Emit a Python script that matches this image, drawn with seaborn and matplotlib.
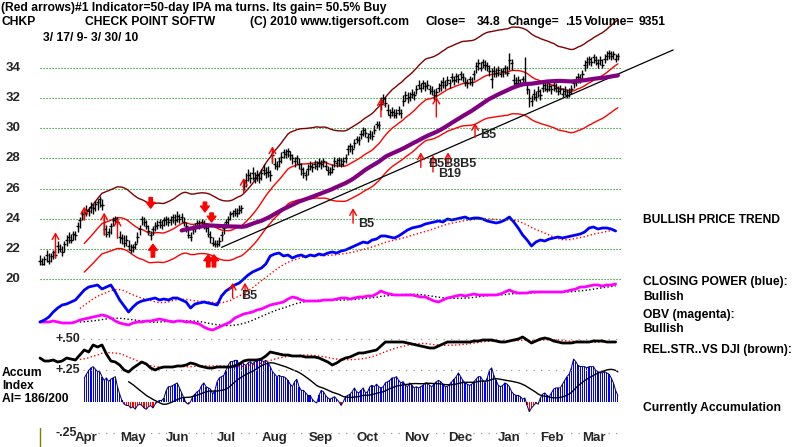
import numpy as np
import pandas as pd
import matplotlib
matplotlib.use("Agg")
import matplotlib.pyplot as plt
import seaborn as sns

# ---------------- data ----------------
closes = [21.2,21.0,21.3,21.6,21.2,21.5,21.8,21.6,22.2,22.0,
          21.8,22.3,22.6,22.8,22.6,23.0,22.9,23.5,23.9,24.3,
          24.4,24.6,24.5,24.8,24.7,25.0,25.1,25.3,24.9,23.3,
          23.0,23.1,23.5,23.9,24.0,23.8,22.8,22.7,22.4,22.6,
          22.2,21.9,22.1,22.3,22.8,23.3,24.0,23.8,23.5,23.2,
          22.9,23.3,23.5,23.6,23.8,23.6,23.9,24.0,23.8,23.9,
          24.1,23.9,24.2,24.0,24.1,23.8,23.5,22.9,22.8,23.3,
          23.5,23.7,23.6,23.8,23.5,23.4,23.0,22.8,22.4,22.3,
          22.3,22.5,22.9,23.4,23.8,24.0,24.3,24.4,24.5,24.4,
          24.6,24.7,26.2,26.6,26.9,26.7,27.0,26.7,26.9,26.7,
          27.0,27.2,27.0,27.1,26.9,28.2,27.6,27.5,27.8,28.1,
          28.4,28.3,28.5,28.2,28.0,27.8,28.0,27.6,27.3,27.0,
          26.9,27.3,27.5,27.4,27.6,27.5,27.7,27.6,27.8,27.5,
          27.2,27.1,27.3,27.8,27.7,27.9,27.6,27.8,28.0,28.6,
          28.8,28.6,29.0,29.3,29.2,29.6,29.9,29.7,29.4,29.6,
          29.5,29.9,30.3,30.2,31.6,32.0,31.7,31.2,30.9,31.1,
          30.9,31.0,31.2,31.0,31.8,32.2,32.0,32.1,32.3,32.2,
          32.6,32.9,32.7,33.0,32.8,32.9,32.6,32.5,32.2,32.4,
          32.7,32.9,33.1,32.9,33.2,33.0,33.4,33.2,33.5,33.3,
          33.6,33.4,33.1,33.0,33.3,33.1,33.6,34.1,34.3,34.0,
          34.4,34.2,34.1,33.8,33.3,33.8,33.7,33.9,33.6,33.8,
          34.0,33.7,34.5,34.3,33.2,33.0,33.2,33.0,33.3,33.1,
          32.6,32.0,31.8,32.3,32.1,32.5,32.2,32.7,32.9,32.6,
          32.8,32.6,32.9,32.7,32.5,32.6,32.3,32.5,32.2,32.4,
          32.6,33.0,33.2,33.4,33.3,33.6,34.2,34.4,34.6,34.4,
          34.7,34.5,34.3,34.5,34.2,34.6,34.8,35.0,34.8,34.9,
          34.6,34.8]
highs = [21.6,21.4,21.5,21.9,21.7,21.7,21.9,21.9,22.5,22.3,
         22.2,22.5,22.9,23.1,23.0,23.2,23.2,23.8,24.1,24.6,
         24.7,24.9,24.8,25.1,25.0,25.2,25.3,25.5,25.3,24.1,
         23.6,23.4,23.7,24.1,24.2,24.1,23.2,23.0,22.9,22.9,
         22.6,22.3,22.3,22.5,23.1,23.6,24.2,24.1,23.9,23.6,
         23.2,23.5,23.8,23.9,24.0,23.9,24.1,24.2,24.1,24.2,
         24.3,24.3,24.5,24.3,24.4,24.1,23.8,23.4,23.1,23.6,
         23.7,23.9,23.9,24.0,23.9,23.7,23.5,23.2,22.8,22.6,
         22.6,22.8,23.2,23.7,24.0,24.2,24.5,24.6,24.7,24.7,
         24.9,24.9,26.6,27.0,27.3,27.1,27.4,27.1,27.2,27.0,
         27.3,27.6,27.4,27.5,27.2,28.7,28.0,27.8,28.1,28.4,
         28.6,28.6,28.7,28.5,28.3,28.1,28.2,28.0,27.7,27.4,
         27.2,27.6,27.8,27.7,27.9,27.8,28.0,27.9,28.0,27.8,
         27.5,27.4,27.6,28.1,28.0,28.1,28.0,28.1,28.3,28.9,
         29.0,28.9,29.3,29.5,29.5,29.9,30.1,30.0,29.7,29.9,
         29.8,30.2,30.5,30.5,32.1,32.3,32.1,31.6,31.3,31.4,
         31.3,31.3,31.5,31.3,32.2,32.5,32.4,32.4,32.6,32.5,
         32.9,33.2,33.0,33.2,33.1,33.2,32.9,32.8,32.6,32.7,
         33.0,33.2,33.4,33.2,33.5,33.3,33.7,33.5,33.7,33.6,
         33.8,33.7,33.4,33.3,33.5,33.4,33.9,34.4,34.6,34.4,
         34.6,34.5,34.4,34.2,34.0,34.1,34.0,34.1,34.0,34.0,
         34.2,34.1,35.0,34.6,33.6,33.4,33.5,33.3,33.5,34.7,
         33.1,32.6,32.2,32.6,32.5,32.8,32.6,33.0,33.2,33.0,
         33.1,32.9,33.1,33.0,32.8,32.9,32.7,32.8,32.6,32.7,
         32.9,33.3,33.5,33.7,33.6,33.9,34.5,34.7,34.8,34.7,
         34.9,34.8,34.6,34.8,34.6,34.9,35.1,35.2,35.1,35.1,
         34.9,35.0]
lows = [20.9,20.9,20.9,21.1,21.0,21.1,21.3,21.4,21.7,21.8,
        21.5,21.8,22.2,22.4,22.4,22.6,22.6,23.1,23.4,23.9,
        24.0,24.2,24.2,24.4,24.3,24.5,24.6,24.8,24.6,23.0,
        22.8,22.8,23.0,23.5,23.7,23.6,22.4,22.3,22.1,22.2,
        21.9,21.7,21.8,22.0,22.4,22.9,23.6,23.5,23.3,22.9,
        22.6,22.9,23.2,23.3,23.4,23.3,23.5,23.6,23.5,23.6,
        23.7,23.6,23.8,23.7,23.8,23.5,23.1,22.7,22.5,23.0,
        23.1,23.4,23.3,23.5,23.3,23.1,22.8,22.4,22.2,22.1,
        22.1,22.2,22.5,23.0,23.4,23.6,23.9,24.1,24.2,24.1,
        24.3,24.4,25.9,26.1,26.5,26.4,26.6,26.4,26.5,26.4,
        26.6,26.9,26.7,26.8,26.5,27.7,27.3,27.2,27.4,27.7,
        28.0,28.0,28.1,27.9,27.6,27.4,27.6,27.3,26.9,26.7,
        26.6,26.9,27.2,27.1,27.3,27.2,27.4,27.3,27.4,27.2,
        26.9,26.9,27.0,27.4,27.4,27.5,27.4,27.5,27.7,28.2,
        28.4,28.3,28.7,29.0,28.9,29.3,29.5,29.4,29.1,29.3,
        29.2,29.6,30.0,29.9,31.2,31.6,31.4,30.9,30.7,30.8,
        30.7,30.7,30.9,30.7,31.5,31.8,31.7,31.8,32.0,31.9,
        32.3,32.6,32.4,32.6,32.5,32.6,32.3,32.2,31.9,32.1,
        32.4,32.5,32.7,32.6,32.9,32.7,33.1,32.9,33.1,33.0,
        33.2,33.1,32.8,32.7,32.9,32.8,33.2,33.7,33.9,33.8,
        34.0,33.9,33.8,33.5,32.7,33.4,33.4,33.5,33.4,33.4,
        33.6,33.5,33.9,33.9,32.9,32.8,32.9,32.8,32.9,32.9,
        32.3,31.4,31.5,31.9,31.8,32.1,31.9,32.4,32.5,32.4,
        32.5,32.3,32.5,32.4,32.2,32.3,32.1,32.2,32.0,32.1,
        32.3,32.7,32.8,33.0,33.0,33.2,33.8,34.0,34.2,34.1,
        34.3,34.2,34.0,34.2,34.0,34.3,34.5,34.6,34.5,34.6,
        34.4,34.5]

# indicators, one reading every 2 trading days (arbitrary indicator units)
cp_vals = [8,10,13,18,22,25,26,28,30,35,
           40,43,44,45,41,43,45,38,30,24,
           18,23,27,29,30,31,32,30,31,30,
           32,32,30,28,22,26,27,28,27,26,
           25,34,39,42,45,47,51,55,58,60,
           62,66,74,76,77,74,75,72,74,75,
           73,75,74,76,75,77,78,77,79,80,
           82,84,86,88,87,90,91,94,94,93,
           92,94,97,100,102,103,104,106,107,108,
           109,108,111,110,111,112,113,111,112,112,
           111,109,108,107,108,110,113,108,102,95,
           90,84,88,90,89,91,92,93,92,93,
           94,95,96,98,102,103,101,102,102,101,99]
obv_vals = [8,8,8,9,8,7,7,7,8,10,
            11,12,13,14,15,14,12,9,7,6,
            5,7,8,8,9,9,10,11,10,9,
            8,9,9,8,8,7,6,3,1,0,
            2,4,6,8,12,14,16,17,18,20,
            21,23,25,26,27,28,31,33,32,30,
            29,29,29,29,30,30,30,31,32,32,
            31,32,33,33,34,34,36,39,37,36,
            35,35,35,35,35,34,33,33,31,29,
            28,30,32,33,34,35,34,35,36,35,
            35,35,35,35,36,38,40,38,37,37,
            37,38,38,38,38,38,38,38,38,39,
            40,41,43,43,44,45,45,44,45,45,46]
rs_vals = [22,19,19,20,18,19,22,21,20,25,
           30,28,35,33,35,26,19,18,15,10,
           8,12,15,18,16,12,10,12,13,13,
           13,14,14,15,17,16,14,13,12,12,
           13,13,13,13,14,16,19,20,20,20,
           21,24,28,27,26,25,25,24,24,24,
           23,23,23,22,20,18,15,17,20,22,
           23,25,27,27,28,29,30,34,38,38,
           38,38,38,37,36,35,34,33,32,32,
           34,36,38,38,38,38,38,38,39,39,
           40,40,40,39,38,38,39,40,41,43,
           40,37,39,41,42,41,39,38,37,37,
           37,38,38,38,38,39,39,39,38,38,38]
# Accumulation Index, daily from trading day 20
ai_vals = [.19,.22,.25,.27,.28,.26,.24,.24,.20,.17,
           .19,.16,.18,.19,.20,.12,.06,.01,-.02,-.03,
           -.03,-.05,-.04,-.06,-.03,-.02,-.03,-.05,-.06,-.04,
           -.03,-.05,-.02,0.0,.01,.01,.03,.09,.12,.12,
           .13,.14,.15,.11,.07,.03,-.01,-.02,0.0,.04,
           .06,.08,.09,.13,.15,.12,.11,.10,.06,.09,
           .16,.19,.20,.21,.25,.29,.32,.32,.33,.33,
           .29,.32,.30,.29,.31,.32,.30,.32,.33,.33,
           .33,.32,.33,.31,.28,.24,.22,.20,.21,.20,
           .20,.19,.17,.14,.12,.16,.18,.12,.09,.09,
           .07,.05,.05,.02,0.0,-.01,.05,.09,.08,.05,
           .03,.02,.03,.04,.02,0.0,-.03,0.0,.04,.05,
           .06,.08,.11,.08,.07,.09,.11,.07,.08,.12,
           .13,.12,.14,.12,.11,.12,.15,.16,.17,.19,
           .19,.20,.17,.15,.16,.13,.12,.15,.13,.11,
           .12,.11,.12,.13,.15,.15,.13,.12,.14,.16,
           .17,.16,.14,.12,.12,.14,.16,.18,.20,.23,
           .20,.17,.15,.14,.13,.14,.16,.18,.20,.20,
           .17,.15,.19,.25,.27,.21,.17,.13,.12,.13,
           .15,.14,.12,.08,.06,.05,.05,.04,.02,.03,
           -.03,-.08,-.05,-.03,-.01,-.02,.03,.06,.07,.05,
           .04,.07,.10,.11,.11,.11,.14,.17,.20,.22,
           .27,.34,.32,.29,.28,.28,.28,.27,.28,.28,
           .28,.25,.24,.23,.23,.24,.23,.22,.19,.15,
           .09,.05]
AI_START = 20

month_names = ["Apr","May","Jun","Jul","Aug","Sep","Oct","Nov","Dec","Jan","Feb","Mar"]
month_start = [11,32,52,74,96,117,138,160,180,202,221,240]
price_ticks = [20,22,24,26,28,30,32,34]
ai_ticks = [0.50, 0.25, -0.25]
ai_tick_labels = ["+.50", "+.25", "-.25"]

trend_days = [82, 286]
trend_prices = [22.1, 35.2]

# signal arrows: (trading day, tail price, head price)
thin_arrows = [(7,21.4,23.1),(20,23.9,24.8),(29,22.9,24.4),(35,22.7,24.0),
               (92,25.7,26.7),(105,27.7,28.8),(154,30.75,32.0),(179,30.75,32.1)]
thick_arrows = [(50,25.4,24.7),(51,21.45,22.3),(74.5,25.1,24.45),(77.5,24.38,23.78),
                (76,20.8,21.6),(78.6,20.8,21.6)]
b_arrows = [(87,18.75,19.75),(92.6,18.8,19.75),(141.4,23.7,24.7),(172,27.4,28.4),
            (177.5,27.1,28.2),(184.3,27.6,28.4),(196.5,29.4,30.35)]
b_labels = [("B5",90.8,18.87),("B5",143.6,23.65),("B5B8B5",175.2,27.65),
            ("B19",179.8,26.95),("B5",198.7,29.55)]

# ---------------- drawing ----------------
sns.set_theme(style="white")
plt.rcParams["font.family"] = ["Liberation Sans", "DejaVu Sans"]

W, H = 800, 447
fig = plt.figure(figsize=(W/100, H/100), dpi=100)
fig.patch.set_facecolor("white")

PX_PER_DAY = 2.214
X0 = 40
xlim = (-X0/PX_PER_DAY, (W - X0)/PX_PER_DAY)

def mk_ax(ylim):
    ax = fig.add_axes([0, 0, 1, 1])
    ax.set_xlim(*xlim)
    ax.set_ylim(*ylim)
    ax.patch.set_alpha(0)
    ax.set_axis_off()
    return ax

def sline(ax, x, y, **kw):
    df = pd.DataFrame({"x": np.asarray(x, float), "y": np.asarray(y, float)}).dropna()
    sns.lineplot(data=df, x="x", y="y", ax=ax, estimator=None, sort=False,
                 legend=False, **kw)

days = np.arange(len(closes))
ind_days = np.arange(len(cp_vals)) * 2
ai_days = np.arange(len(ai_vals)) + AI_START

# accumulation index axis: y_pix = 401.7 - 125.3 v
ax_ai = mk_ax(((401.7 - H)/125.3, 401.7/125.3))
# relative strength axis: y_pix = 380 - v
ax_rs = mk_ax((380 - H, 380))
# closing power / OBV axes: y_pix = 330 - v
ax_obv = mk_ax((330 - H, 330))
ax_cp = mk_ax((330 - H, 330))
# price axis: y_pix = 68 + (34 - p) * 15.07
ax_p = mk_ax((34 - (H - 68)/15.07, 34 + 68/15.07))

# --- accumulation index ---
ai = np.array(ai_vals)
ax_ai.bar(ai_days, ai, width=0.55, color=np.where(ai >= 0, "#0000ff", "#ff0000"),
          linewidth=0, antialiased=False)
sline(ax_ai, ai_days, ai, color="#000060", lw=0.7)
ai_ma = pd.Series(ai).rolling(21).mean()
sline(ax_ai, ai_days, ai_ma, color="black", lw=1.0)
ax_ai.hlines(ai_ticks, 19.5, 263, colors="#999999", linestyles=(0, (1, 5)), lw=0.9)
for v, lab in zip(ai_ticks, ai_tick_labels):
    ax_ai.text(6.8, v, lab, fontsize=9, fontweight="bold", ha="left", va="center")
for name, st in zip(month_names, month_start):
    ax_ai.text(st + 10, -0.29, name, fontsize=9.5, fontweight="bold",
               ha="center", va="center")
ax_ai.plot([0, 0], [-0.21, -0.37], color="#808000", lw=1)

# --- relative strength ---
rs = pd.Series(rs_vals, dtype=float)
sline(ax_rs, ind_days, rs.rolling(10).mean(), color="red", lw=1, linestyle=":")
sline(ax_rs, ind_days, rs, color="black", lw=2)

# --- OBV ---
obv = pd.Series(obv_vals, dtype=float)
sline(ax_obv, ind_days, obv.rolling(10).mean(), color="black", lw=1, linestyle=":")
sline(ax_obv, ind_days, obv, color="#ff00ff", lw=2)

# --- closing power ---
cp = pd.Series(cp_vals, dtype=float)
sline(ax_cp, ind_days, cp.rolling(10).mean(), color="red", lw=1, linestyle=":")
sline(ax_cp, ind_days, cp, color="#0000ff", lw=2)

# --- price panel ---
ax_p.hlines(price_ticks, 0, 263, colors="#008000", linestyles=(0, (1, 1.7)), lw=0.8)
for t in price_ticks:
    ax_p.text(-15.4, t, str(t), fontsize=9.5, fontweight="bold", ha="left", va="center")

cl = pd.Series(closes, dtype=float)
ma21 = cl.rolling(21).mean()
ma65 = cl.rolling(65).mean()
sline(ax_p, days, ma21 * 1.085, color="#800000", lw=1)
sline(ax_p, days, ma21, color="red", lw=1)
sline(ax_p, days, ma21 * 0.915, color="red", lw=1)
ax_p.plot(trend_days, trend_prices, color="black", lw=0.9)
ax_p.vlines(days, lows, highs, colors="black", lw=1)
ax_p.hlines(closes, days - 0.7, days + 0.7, colors="black", lw=1)
sline(ax_p, days, ma65, color="#800080", lw=3)

for d, a, b in thin_arrows + b_arrows:
    ax_p.annotate("", xy=(d, b), xytext=(d, a),
                  arrowprops=dict(arrowstyle="->,head_length=0.35,head_width=0.2",
                                  color="red", lw=1, shrinkA=0, shrinkB=0))
for d, a, b in thick_arrows:
    ax_p.annotate("", xy=(d, b), xytext=(d, a),
                  arrowprops=dict(arrowstyle="simple,head_width=0.9,head_length=0.6,tail_width=0.35",
                                  color="red", mutation_scale=7, shrinkA=0, shrinkB=0))
for s, d, p in b_labels:
    ax_p.text(d, p, s, fontsize=9, fontweight="bold", ha="left", va="center")

# --- header and side texts ---
def ftext(px, py, s, size=8.7):
    fig.text(px/W, 1 - py/H, s, fontsize=size, fontweight="bold", ha="left",
             va="center", color="black")

ftext(1, 8, "(Red arrows)#1 Indicator=50-day IPA ma turns. Its gain= 50.5% Buy")
ftext(1, 22, "CHKP")
ftext(85, 22, "CHECK POINT SOFTW")
ftext(250, 22, "(C) 2010 www.tigersoft.com")
ftext(425, 22, "Close=")
ftext(477, 22, "34.8")
ftext(507, 22, "Change=")
ftext(565, 22, ".15")
ftext(584, 22, "Volume=")
ftext(639, 22, "9351")
ftext(43, 38, "3/ 17/ 9- 3/ 30/ 10")

ftext(643, 220, "BULLISH PRICE TREND")
ftext(643, 282, "CLOSING POWER (blue):")
ftext(643, 297, "Bullish")
ftext(643, 315, "OBV (magenta):")
ftext(643, 329, "Bullish")
ftext(643, 350, "REL.STR..VS DJI (brown):")
ftext(643, 408, "Currently Accumulation")

ftext(2, 373, "Accum")
ftext(2, 386, "Index")
ftext(2, 399, "AI= 186/200")

fig.savefig("out.png", dpi=100, facecolor="white")
